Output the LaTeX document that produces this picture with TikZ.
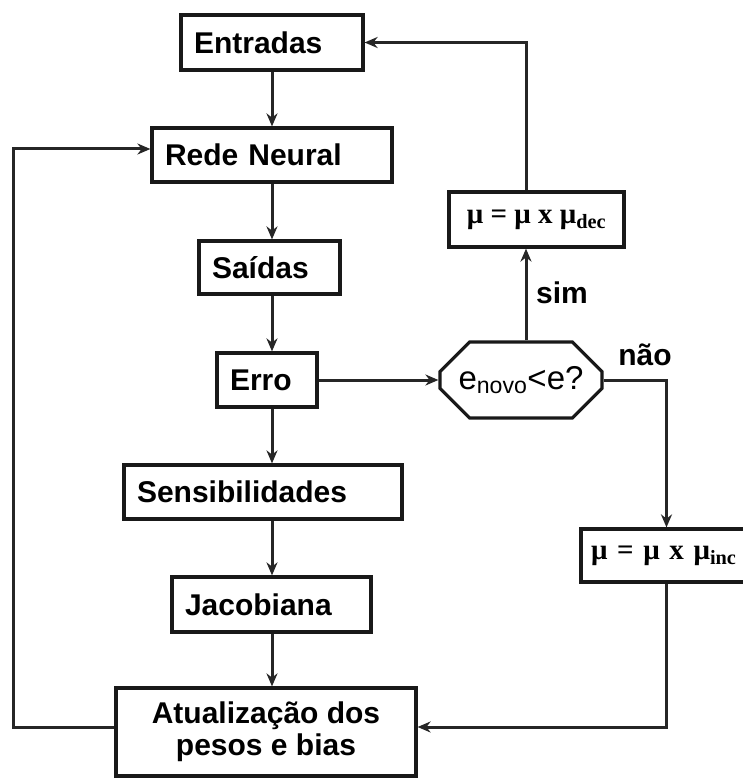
\documentclass[tikz,border=0pt]{standalone}
\usepackage{fontspec}
\setmainfont{Liberation Sans}
\newfontfamily\serifmu{Liberation Serif}
\usetikzlibrary{shapes.misc,arrows.meta}
\tikzset{
  lbl/.style={font=\fontsize{30}{34}\selectfont\bfseries},
  flowbox/.style={draw=black!90,line width=3.2pt,rectangle,inner sep=0pt,lbl},
  lbox/.style={flowbox,align=left,text width=#1,inner xsep=13pt},
  mubox/.style={draw=black!90,line width=3.2pt,rectangle,inner sep=0pt,
     font=\serifmu\fontsize{29}{32}\selectfont\bfseries},
  flowarrow/.style={draw=black!85,line width=3pt,-{Stealth[length=13pt,width=11pt]}}
}
\begin{document}
\begin{tikzpicture}[x=1pt,y=-1pt]
\useasboundingbox (0,0) rectangle (742,778);
\node[lbox=156pt,minimum height=55pt] (ent) at (272,42.5) {Entradas};
\node[lbox=214pt,minimum height=54pt] (rede) at (272,155) {Rede Neural};
\node[lbox=115pt,minimum height=53pt] (said) at (269.5,267.5) {Saídas};
\node[lbox=74pt,minimum height=54pt] (erro) at (267,380) {Erro};
\node[lbox=252pt,minimum height=54pt] (sens) at (263,492) {Sensibilidades};
\node[lbox=173pt,minimum height=55pt] (jac) at (271.5,604.5) {Jacobiana};
\node[flowbox,align=center,minimum width=300pt,minimum height=88pt] (atual) at (266,732)
  {Atualização dos\\[-2pt]pesos e bias};
\node[chamfered rectangle,chamfered rectangle xsep=18pt,chamfered rectangle ysep=16pt,
  draw=black!90,line width=3.2pt,inner sep=0pt,minimum width=162pt,minimum height=76pt,
  font=\fontsize{33}{36}\selectfont] (oct) at (521,380)
  {e\textsubscript{novo}<e?};
\node[mubox,minimum width=175pt,minimum height=55pt] (mudec) at (536.5,219.5)
  {μ = μ x μ\textsubscript{dec}};
\node[mubox,minimum width=171pt,minimum height=53pt,text width=157pt,align=left] (muinc) at (666.5,555.5)
  {\hspace*{3pt}μ = μ x μ\textsubscript{inc}};
\node[lbl] (sim) at (562,293) {sim};
\node[lbl] (nao) at (645,355) {não};
\draw[flowarrow] (ent.south) -- (rede.north);
\draw[flowarrow] (rede.south) -- (rede.south |- said.north);
\draw[flowarrow] (said.south -| rede.south) -- (erro.north -| rede.south);
\draw[flowarrow] (erro.south -| rede.south) -- (sens.north -| rede.south);
\draw[flowarrow] (sens.south -| rede.south) -- (jac.north -| rede.south);
\draw[flowarrow] (jac.south -| rede.south) -- (atual.north -| rede.south);
\draw[flowarrow] (erro.east) -- (oct.west);
\draw[flowarrow] ([xshift=5pt]oct.north) -- ([xshift=5pt]oct.north |- mudec.south);
\draw[flowarrow] ([xshift=5pt]oct.north |- mudec.north) |- (ent.east);
\draw[flowarrow] (oct.east) -| (muinc.north);
\draw[flowarrow] (muinc.south) |- ([yshift=5pt]atual.east);
\coordinate (lft) at (13,0);
\draw[flowarrow] ([yshift=5pt]atual.west) -- ([yshift=5pt]atual.west -| lft) |- ([yshift=6pt]rede.west);
\end{tikzpicture}
\end{document}
